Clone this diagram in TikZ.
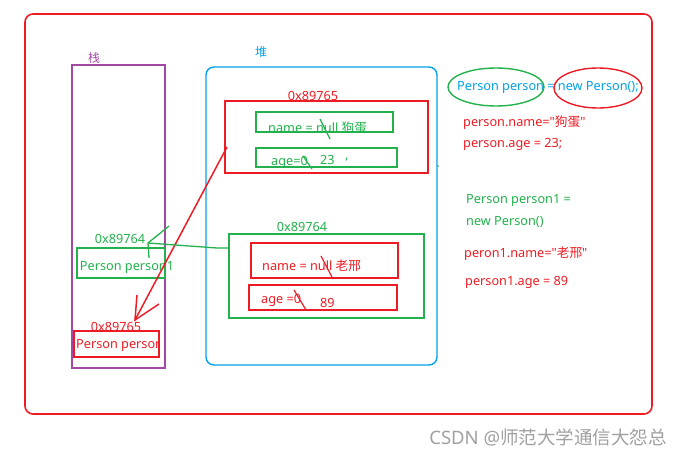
\documentclass[tikz,border=0pt]{standalone}
\usepackage{fontspec}
\setmainfont{Noto Sans}[Ligatures=TeXOff]
\newfontfamily\cjk{Noto Sans CJK SC}
\definecolor{rd}{RGB}{237,28,36}
\definecolor{gr}{RGB}{34,177,76}
\definecolor{bl}{RGB}{0,162,232}
\definecolor{pu}{RGB}{163,73,164}
\definecolor{gy}{RGB}{160,160,160}
\tikzset{
  box/.style={draw, line width=1.4pt, inner sep=0pt},
  txt/.style={inner sep=0pt, anchor=west, font=\fontsize{12.7}{14}\selectfont},
  lbl/.style={inner sep=0pt, font=\fontsize{12.7}{14}\selectfont},
}
\begin{document}
\begin{tikzpicture}[x=1pt,y=-1pt]
\useasboundingbox (0,0) rectangle (690,455);
% outer
\draw[rd, line width=1.6pt, rounded corners=8pt] (25,14) rectangle (652,414);
% stack
\node[lbl, pu, font=\fontsize{12}{13}\selectfont] (stk) at (94,58) {\cjk 栈};
\draw[pu, line width=1.4pt] (72,65) rectangle (165,368);
% heap
\node[lbl, bl, font=\fontsize{12}{13}\selectfont] (hp) at (261,52) {\cjk 堆};
\draw[bl, line width=1.4pt, rounded corners=8pt] (206,67) rectangle (437,365);
% heap object 1
\node[box, rd, minimum width=203pt, minimum height=72pt] (h1) at (326.5,137) {};
\node[lbl, rd] (h1a) at (313,96) {0x89765};
\node[box, gr, minimum width=137pt, minimum height=20pt] (h1n) at (324.5,122) {};
\node[txt, gr] (h1nt) at (268,128) {name = null {\cjk 狗蛋}};
\node[box, gr, minimum width=141pt, minimum height=19pt] (h1g) at (326.5,157.5) {};
\node[txt, gr] (h1gt) at (271,162) {age=0};
\node[txt, gr] (h1gv) at (320,160) {23};
\node[txt, gr] (h1gc) at (345,160) {,};
\draw[gr, line width=1.2pt] (320,119) -- (330,139);
\draw[gr, line width=1.2pt] (303,156) -- (312,169);
\fill[gr] (438,166) circle (0.8pt);
% heap object 2
\node[box, gr, minimum width=195pt, minimum height=84pt] (h2) at (326.5,276) {};
\node[lbl, gr] (h2a) at (302,227) {0x89764};
\node[box, rd, minimum width=147pt, minimum height=35pt] (h2n) at (324.5,260.5) {};
\node[txt, rd] (h2nt) at (262,266) {name = null {\cjk 老邢}};
\node[box, rd, minimum width=148pt, minimum height=25pt] (h2g) at (323,297.5) {};
\node[txt, rd] (h2gt) at (261,300) {age =0};
\node[txt, rd] (h2gv) at (320,303) {89};
\draw[rd, line width=1.2pt] (321,256) -- (333,279);
\draw[rd, line width=1.2pt] (294,290) -- (306,310);
% stack frames
\node[box, gr, minimum width=88pt, minimum height=30pt] (s1) at (121,263) {};
\node[lbl, gr] (s1t) at (127,267) {Person person1};
\node[lbl, gr] (s1a) at (120,239) {0x89764};
\node[box, rd, minimum width=85pt, minimum height=26pt] (s2) at (116.5,344) {};
\begin{scope}
\clip (s2.south west) rectangle (s2.north east);
\node[txt, rd] (s2t) at (76,345) {Person person};
\end{scope}
\node[lbl, rd] (s2a) at (116,327) {0x89765};
% connectors
\coordinate (rt) at (135,320);
\coordinate (rs) at (227,147);
\draw[rd, line width=1.5pt] (rs) -- (rt);
\draw[rd, line width=1.5pt] (137,295) -- (rt) -- (159,304);
\coordinate (gt) at (148,243);
\coordinate (gs) at (h2.west |- 0,248);
\draw[gr, line width=1.3pt] (gs) -- (217,248) -- (gt);
\draw[gr, line width=1.3pt] (169,226) -- (gt) -- (149,258);
% right side code
\node[txt, bl] (c1) at (457,87) {Person person = new Person();};
\draw[gr, line width=1.4pt] (496,87) ellipse (48pt and 19pt);
\draw[rd, line width=1.4pt] (598,88) ellipse (44pt and 20pt);
\node[txt, rd] (c2) at (463,123) {person.name="{\cjk 狗蛋}"};
\node[txt, rd] (c3) at (463,144) {person.age = 23;};
\node[txt, gr] (c4) at (466,200) {Person person1 =};
\node[txt, gr] (c5) at (466,222) {new Person()};
\node[txt, rd] (c6) at (464,254) {peron1.name="{\cjk 老邢}"};
\node[txt, rd] (c7) at (465,282) {person1.age = 89};
% watermark
\node[lbl, gy, font=\fontsize{18.5}{20}\selectfont] (wm) at (548,437) {CSDN @{\cjk 师范大学通信大怨总}};
\end{tikzpicture}
\end{document}
